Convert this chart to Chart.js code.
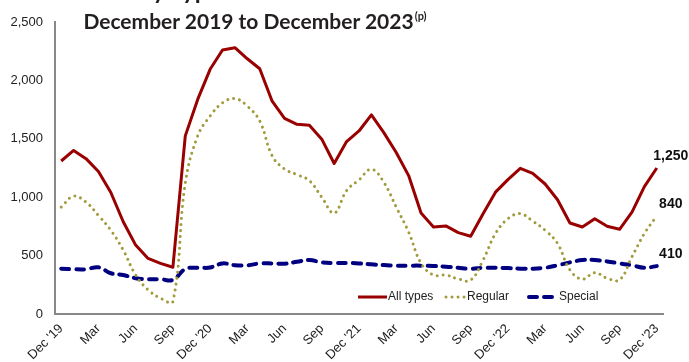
<!DOCTYPE html>
<html>
<head>
<meta charset="utf-8">
<script src="https://cdn.jsdelivr.net/npm/chart.js@4.4.1/dist/chart.umd.min.js"></script>
<style>
  html, body { margin: 0; padding: 0; background: #fff; }
  #wrap { position: relative; width: 689px; height: 362px; overflow: hidden; }
  #chart { position: absolute; left: 0; top: 0; }
  .title { position: absolute; font-family: Lato, "Open Sans", sans-serif; font-weight: 700;
           color: #231f20; white-space: nowrap; text-align: center; }
  .title sup { font-size: 11px; vertical-align: 0; position: relative; top: -9px; margin-left: 1px; }
</style>
</head>
<body>
<div id="wrap">
  <canvas id="chart" width="689" height="362"></canvas>
  <div class="title" id="t1" style="left:36px; width:400px; top:-25px; font-size:24px;">by Type of Benefit</div>
  <div class="title" id="t2" style="left:55px; width:400px; top:8px; font-size:21px;">December 2019 to December 2023<sup>(p)</sup></div>
</div>
<script>
// Monthly claims, December 2019 through December 2023 (thousands)
const monthNames = ["Jan", "Feb", "Mar", "Apr", "May", "Jun", "Jul", "Aug", "Sep", "Oct", "Nov", "Dec"];
const startYear = 2019;   // series begins in December of this year
const monthCount = 49;

const allTypes = [1310, 1400, 1330, 1220, 1040, 790, 590, 476, 434, 400,
                  1525, 1837, 2095, 2260, 2280, 2185, 2100, 1822, 1675, 1624,
                  1615, 1497, 1289, 1476, 1567, 1705, 1553, 1383, 1185, 864,
                  745, 754, 697, 666, 859, 1043, 1150, 1247, 1204, 1113,
                  978, 779, 745, 816, 751, 725, 872, 1091, 1250];
const regular  = [915, 1009, 958, 844, 717, 547, 334, 207, 136, 107,
                  1120, 1525, 1695, 1808, 1845, 1780, 1652, 1355, 1241, 1193,
                  1142, 1000, 864, 1057, 1148, 1240, 1128, 915, 702, 434,
                  334, 334, 300, 290, 462, 689, 816, 859, 795, 717,
                  604, 377, 298, 354, 306, 292, 490, 689, 840];
const special  = [388, 383, 383, 400, 349, 334, 306, 298, 298, 292,
                  385, 396, 398, 433, 417, 417, 433, 433, 430, 447,
                  462, 442, 437, 437, 433, 425, 419, 414, 414, 414,
                  411, 405, 396, 388, 396, 396, 393, 388, 388, 396,
                  417, 442, 462, 462, 450, 433, 417, 396, 410];

// Axis labels shown every third month
const tickLabels = ["Dec '19", "Mar", "Jun", "Sep", "Dec '20", "Mar", "Jun", "Sep",
                    "Dec '21", "Mar", "Jun", "Sep", "Dec '22", "Mar", "Jun", "Sep", "Dec '23"];
const yTicks = [0, 500, 1000, 1500, 2000, 2500];

const categories = [];
for (let i = 0; i < monthCount; i++) {
  const m = (11 + i) % 12;
  const y = startYear + Math.floor((11 + i) / 12);
  categories.push(monthNames[m] + " " + y);
}

const RED = "#990000", OLIVE = "#a19b3c", NAVY = "#000080";
const FONT = "'Liberation Sans', Arial, sans-serif";

// Legend drawn inside the plot area, plus value labels at the last month
const overlayPlugin = {
  id: "overlay",
  afterDatasetsDraw(chart) {
    const ctx = chart.ctx;
    const area = chart.chartArea;
    const ly = area.bottom - 17;
    const items = [
      { ds: 0, x0: 358, x1: 387 },
      { ds: 1, x0: 446, x1: 466 },
      { ds: 2, x0: 529, x1: 558 }
    ];
    ctx.save();
    items.forEach(it => {
      const d = chart.data.datasets[it.ds];
      ctx.beginPath();
      ctx.strokeStyle = d.borderColor;
      ctx.lineWidth = d.borderWidth;
      ctx.lineCap = d.borderCapStyle || "butt";
      ctx.setLineDash(d.borderDash || []);
      ctx.moveTo(it.x0, ly);
      ctx.lineTo(it.x1, ly);
      ctx.stroke();
      ctx.setLineDash([]);
      ctx.fillStyle = "#222";
      ctx.font = "12px " + FONT;
      ctx.textAlign = "left";
      ctx.textBaseline = "middle";
      ctx.fillText(d.label, it.x1 + 1, ly);
    });

    ctx.font = "bold 14px " + FONT;
    ctx.textAlign = "center";
    ctx.textBaseline = "middle";
    ctx.fillStyle = "#111";
    chart.data.datasets.forEach((d, i) => {
      const meta = chart.getDatasetMeta(i);
      const last = d.data.length - 1;
      const pt = meta.data[last];
      const v = d.data[last];
      ctx.fillText(v.toLocaleString("en-US"), pt.x + 14, chart.scales.y.getPixelForValue(v) - 12);
    });
    ctx.restore();
  }
};

new Chart(document.getElementById("chart"), {
  type: "line",
  data: {
    labels: categories,
    datasets: [
      { label: "All types", data: allTypes, borderColor: RED, borderWidth: 3,
        tension: 0, pointRadius: 0, borderJoinStyle: "round" },
      { label: "Regular", data: regular, borderColor: OLIVE, borderWidth: 3,
        borderDash: [0.01, 6], borderCapStyle: "round", tension: 0.4, pointRadius: 0 },
      { label: "Special", data: special, borderColor: NAVY, borderWidth: 4,
        borderDash: [8, 7], borderCapStyle: "round", tension: 0.4, pointRadius: 0 }
    ]
  },
  options: {
    responsive: false,
    animation: false,
    devicePixelRatio: 1,
    layout: { padding: { top: 22, right: 26, left: 0, bottom: 0 } },
    plugins: { legend: { display: false }, title: { display: false }, tooltip: { enabled: false } },
    scales: {
      x: {
        type: "category",
        offset: true,
        grid: { display: false, drawTicks: false },
        border: { display: true, color: "#888", width: 2 },
        afterFit(scale) { scale.height = 48; },
        ticks: {
          autoSkip: false,
          maxRotation: 45,
          minRotation: 45,
          padding: 7,
          color: "#222",
          font: { family: FONT, size: 13 },
          callback(value, index) { return index % 3 === 0 ? tickLabels[index / 3] : ""; }
        }
      },
      y: {
        min: yTicks[0],
        max: yTicks[yTicks.length - 1],
        grid: { display: false, drawTicks: false },
        border: { display: true, color: "#888", width: 2 },
        afterFit(scale) { scale.width = 55; },
        afterBuildTicks(scale) { scale.ticks = yTicks.map(v => ({ value: v })); },
        ticks: {
          padding: 12,
          color: "#222",
          font: { family: FONT, size: 13 },
          callback(v) { return Number(v).toLocaleString("en-US"); }
        }
      }
    }
  },
  plugins: [overlayPlugin]
});
</script>
</body>
</html>
